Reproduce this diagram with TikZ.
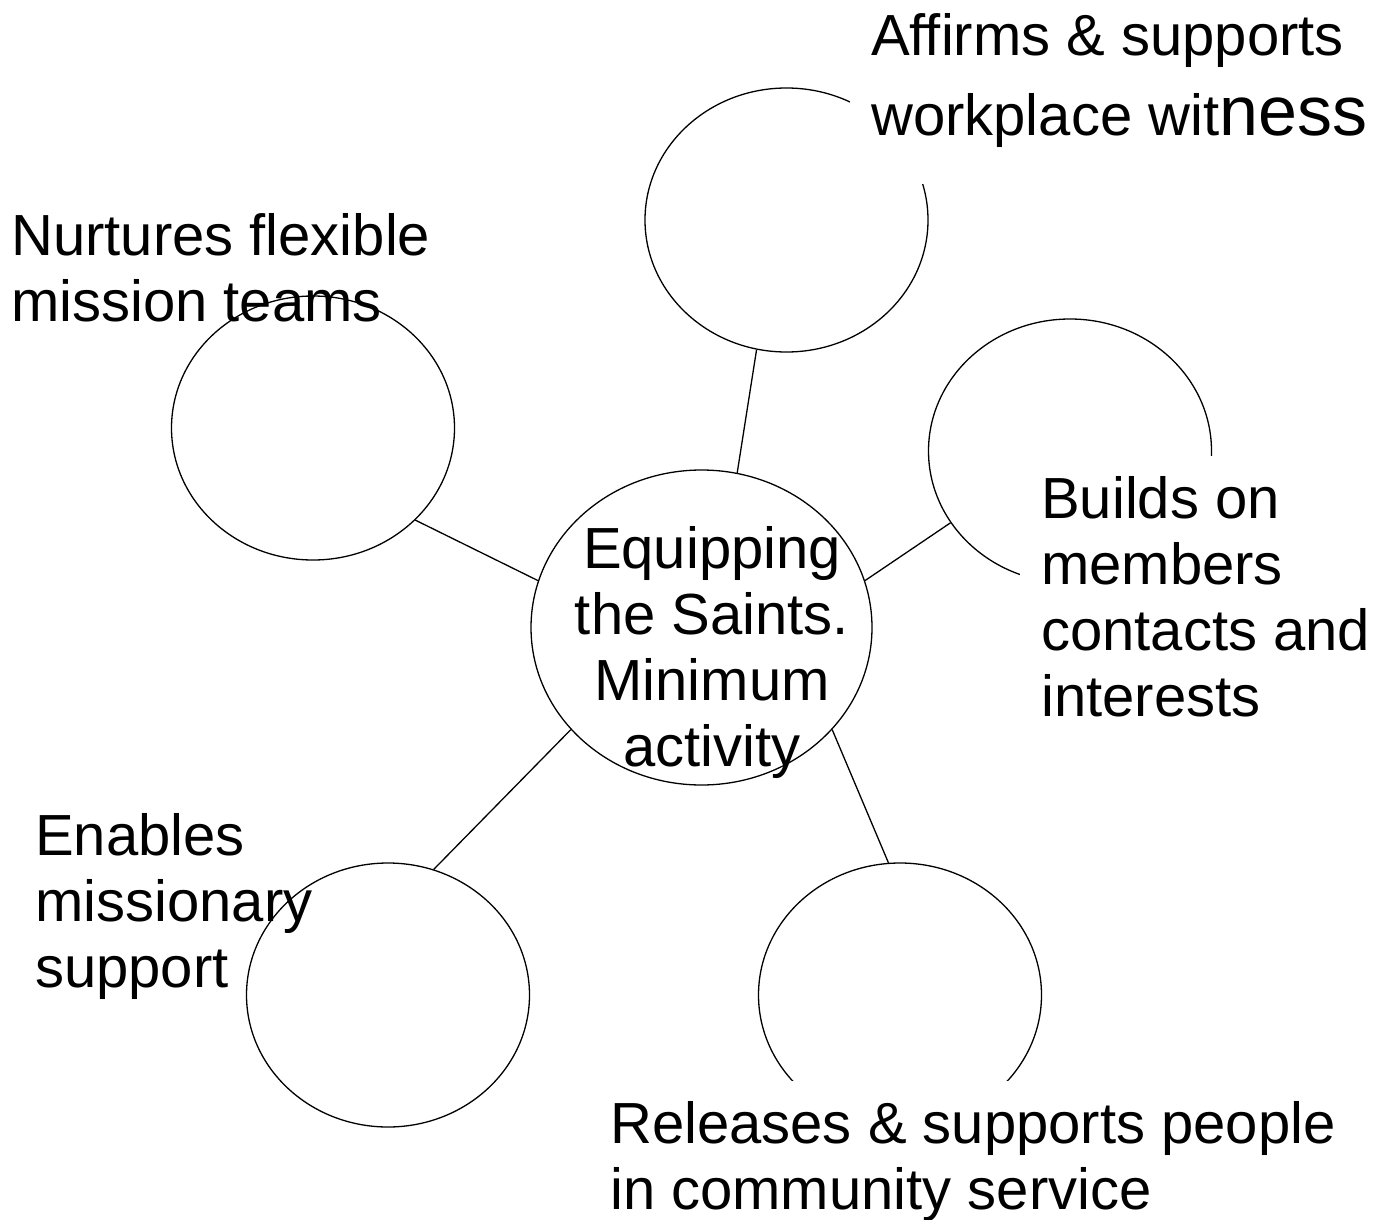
\documentclass[tikz,border=0pt]{standalone}
\usepackage{fontspec}
\setmainfont{Liberation Sans}
\usetikzlibrary{shapes.geometric}
\newcommand{\bigtxt}{\fontsize{58}{66}\selectfont}

\begin{document}
\begin{tikzpicture}[
  x=1pt, y=-1pt,
  ring/.style={draw, ellipse, line width=1.3pt, minimum width=283pt, minimum height=264pt, inner sep=0pt},
  hubring/.style={ring, minimum width=341pt, minimum height=315pt},
  lbl/.style={font=\bigtxt, align=left, inner sep=0pt, anchor=north west},
  covlbl/.style={lbl, fill=white, inner sep=21pt},
  link/.style={line width=1.3pt}
]
  \useasboundingbox (0,0) rectangle (1376,1220);

  \node[hubring] (hub) at (701.5, 627.5) {};
  \node[ring] (work) at (786.5, 220) {};
  \node[ring] (teams) at (313, 428) {};
  \node[ring] (contacts) at (1070, 451) {};
  \node[ring] (support) at (388, 995) {};
  \node[ring] (service) at (900, 995) {};

  \draw[link] (work.257) -- (hub.77);
  \draw[link] (teams.318) -- (hub.164);
  \draw[link] (contacts.211) -- (hub.16);
  \draw[link] (support.70) -- (hub.218);
  \draw[link] (service.95) -- (hub.322);

  \node[font=\bigtxt, align=center, inner sep=0pt, anchor=north] (hublbl) at (712, 526.5)
    {Equipping\\the Saints.\\Minimum\\activity};
  \node[lbl] (teamslbl) at (11, 213.7) {Nurtures flexible\\mission teams};
  \node[lbl] (supportlbl) at (35, 813.7) {Enables\\missionary\\support};
  \node[covlbl] (worklbl) at (850, -7.3)
    {Affirms \& supports\\[14pt]workplace wit{\fontsize{70}{66}\selectfont ness}\rule[-27pt]{0pt}{27pt}};
  \node[covlbl] (contactslbl) at (1020, 455.7)
    {Builds on\\members\\contacts and\\interests};
  \node[covlbl] (servicelbl) at (589, 1080.7)
    {Releases \& supports people\\in community service};
\end{tikzpicture}
\end{document}
